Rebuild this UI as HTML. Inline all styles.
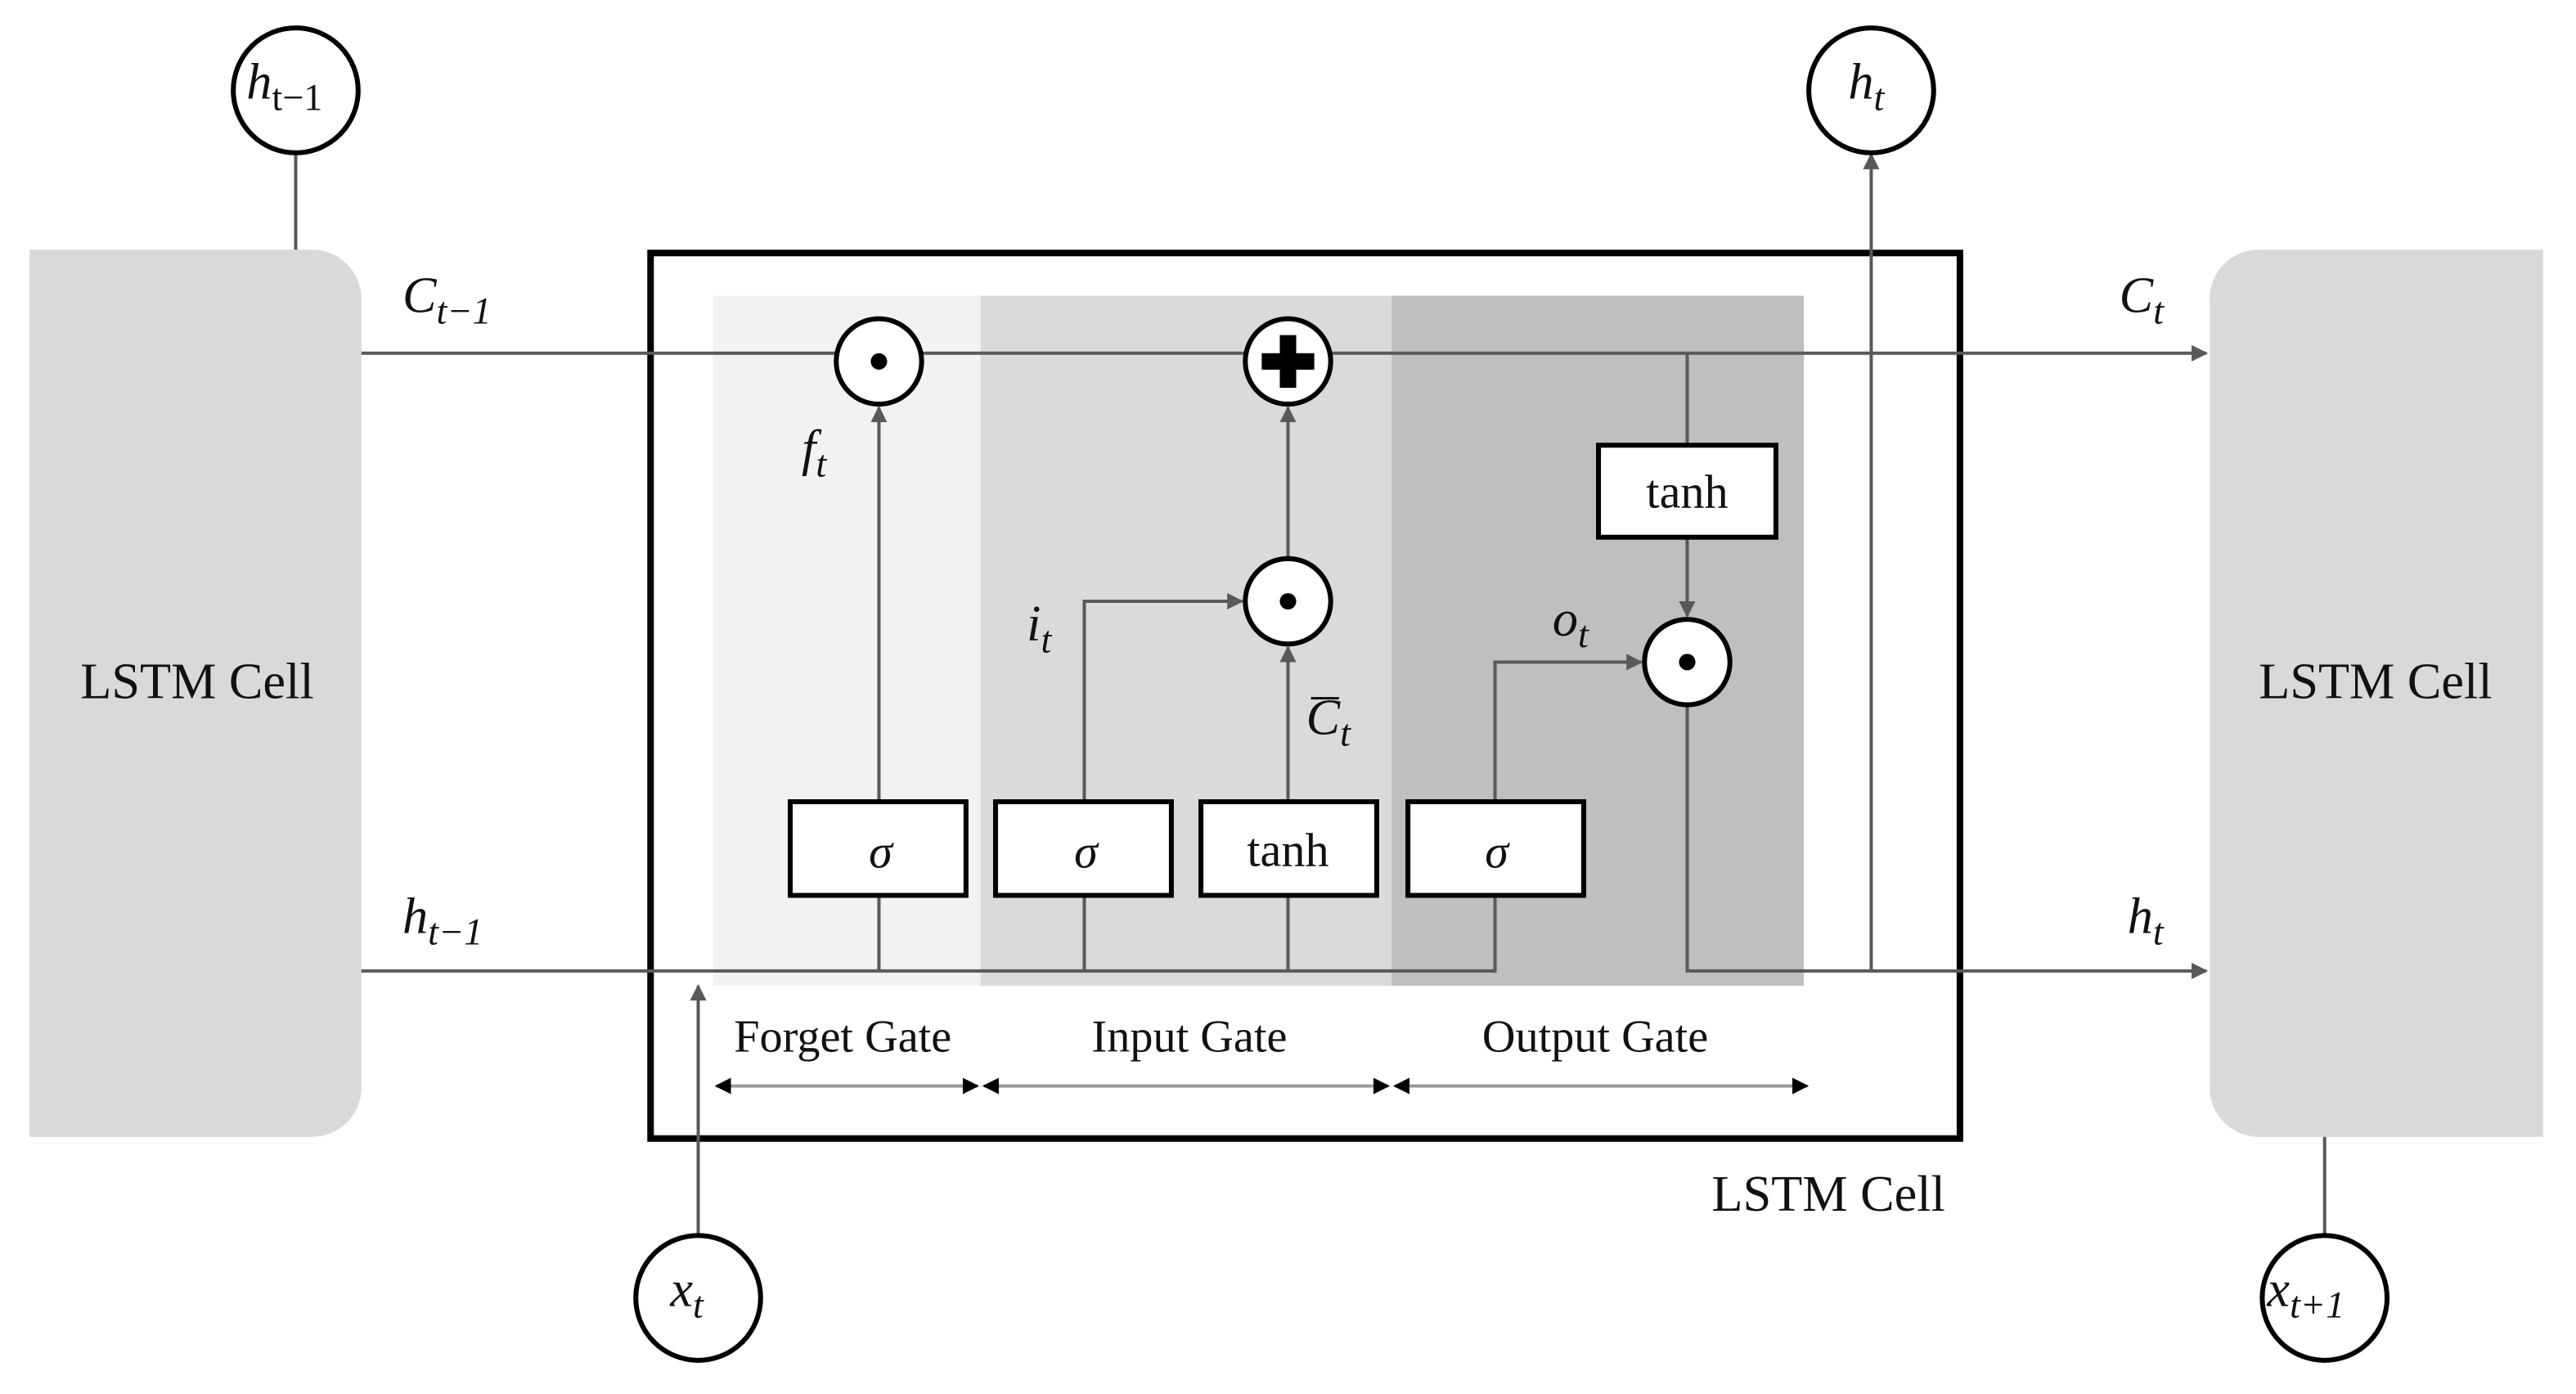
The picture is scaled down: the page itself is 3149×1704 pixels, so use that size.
<!DOCTYPE html>
<html><head><meta charset="utf-8"><style>
html,body{margin:0;padding:0;background:#fff;width:3149px;height:1704px;overflow:hidden}
svg{display:block}
text{font-family:"Liberation Serif",serif;fill:#111}
.it{font-style:italic}
</style></head><body>
<svg width="3149" height="1704" viewBox="0 0 1568 848.5" preserveAspectRatio="none">
<defs>
<marker id="a" viewBox="0 0 10 10" refX="9" refY="5" markerWidth="5" markerHeight="5" orient="auto-start-reverse"><path d="M0,0L10,5L0,10z" fill="#595959"/></marker>
<marker id="b" viewBox="0 0 10 10" refX="9" refY="5" markerWidth="5" markerHeight="5" orient="auto-start-reverse"><path d="M0,0L10,5L0,10z" fill="#000"/></marker>
</defs>
<path d="M18,152H190A30,30 0 0 1 220,182V662A30,30 0 0 1 190,692H18Z" fill="#d9d9d9"/>
<path d="M1548,152H1375A30,30 0 0 0 1345,182V662A30,30 0 0 0 1375,692H1548Z" fill="#d9d9d9"/>
<text x="120" y="425" font-size="31" text-anchor="middle">LSTM Cell</text>
<text x="1446" y="425" font-size="31" text-anchor="middle">LSTM Cell</text>
<rect x="434" y="180" width="163" height="420" fill="#f2f2f2"/>
<rect x="597" y="180" width="250" height="420" fill="#dadada"/>
<rect x="847" y="180" width="251" height="420" fill="#bfbfbf"/>
<rect x="396" y="154" width="797" height="539" fill="none" stroke="#000" stroke-width="4"/>
<g stroke="#595959" stroke-width="2" fill="none">
<line x1="180" y1="93" x2="180" y2="152"/>
<line x1="1415" y1="692" x2="1415" y2="752"/>
<line x1="220" y1="215" x2="1343" y2="215" marker-end="url(#a)"/>
<polyline points="220,591 910,591 910,545"/>
<polyline points="1027,430 1027,591 1343,591" marker-end="url(#a)"/>
<line x1="1139" y1="591" x2="1139" y2="94" marker-end="url(#a)"/>
<line x1="425" y1="752" x2="425" y2="600" marker-end="url(#a)"/>
<line x1="535" y1="591" x2="535" y2="545"/>
<line x1="660" y1="591" x2="660" y2="545"/>
<line x1="784" y1="591" x2="784" y2="545"/>
<line x1="535" y1="488" x2="535" y2="248" marker-end="url(#a)"/>
<polyline points="660,488 660,366 756,366" marker-end="url(#a)"/>
<line x1="784" y1="488" x2="784" y2="394" marker-end="url(#a)"/>
<line x1="784" y1="339" x2="784" y2="248" marker-end="url(#a)"/>
<polyline points="910,488 910,403 999,403" marker-end="url(#a)"/>
<line x1="1027" y1="215" x2="1027" y2="271"/>
<line x1="1027" y1="327" x2="1027" y2="375" marker-end="url(#a)"/>
</g>
<g stroke="#999" stroke-width="2">
<line x1="436" y1="661" x2="595" y2="661" marker-start="url(#b)" marker-end="url(#b)"/>
<line x1="599" y1="661" x2="845" y2="661" marker-start="url(#b)" marker-end="url(#b)"/>
<line x1="849" y1="661" x2="1100" y2="661" marker-start="url(#b)" marker-end="url(#b)"/>
</g>
<g fill="#fff" stroke="#000" stroke-width="3">
<rect x="481" y="488" width="107" height="57"/>
<rect x="606" y="488" width="107" height="57"/>
<rect x="731" y="488" width="107" height="57"/>
<rect x="857" y="488" width="107" height="57"/>
<rect x="973" y="271" width="108" height="56"/>
<circle cx="535" cy="220" r="26"/>
<circle cx="784" cy="220" r="26"/>
<circle cx="784" cy="366" r="26"/>
<circle cx="1027" cy="403" r="26"/>
<circle cx="180" cy="55" r="38"/>
<circle cx="1139" cy="55" r="38"/>
<circle cx="425" cy="790" r="38"/>
<circle cx="1415" cy="790" r="38"/>
</g>
<circle cx="535" cy="220" r="5" fill="#000"/>
<circle cx="784" cy="366" r="5" fill="#000"/>
<circle cx="1027" cy="403" r="5" fill="#000"/>
<path d="M779,204h10v11h11v10h-11v11h-10v-11h-11v-10h11z" fill="#000"/>
<g font-size="29" text-anchor="middle">
<text x="536" y="528" class="it">σ</text>
<text x="661" y="528" class="it">σ</text>
<text x="784" y="527">tanh</text>
<text x="911" y="528" class="it">σ</text>
<text x="1027" y="309">tanh</text>
</g>
<g font-size="28" text-anchor="middle">
<text x="513" y="640">Forget Gate</text>
<text x="724" y="640">Input Gate</text>
<text x="971" y="640">Output Gate</text>
</g>
<text x="1113" y="737" font-size="31" text-anchor="middle">LSTM Cell</text>
<g font-size="31">
<text x="150" y="60" class="it">h<tspan font-size="23" dy="7" font-style="normal">t−1</tspan></text>
<text x="1125" y="60" class="it">h<tspan font-size="23" dy="7">t</tspan></text>
<text x="408" y="795" class="it">x<tspan font-size="23" dy="7">t</tspan></text>
<text x="1380" y="795" class="it">x<tspan font-size="23" dy="7">t+1</tspan></text>
<text x="245" y="190" class="it">C<tspan font-size="23" dy="7">t−1</tspan></text>
<text x="1290" y="190" class="it">C<tspan font-size="23" dy="7">t</tspan></text>
<text x="245" y="568" class="it">h<tspan font-size="23" dy="7">t−1</tspan></text>
<text x="1295" y="568" class="it">h<tspan font-size="23" dy="7">t</tspan></text>
<text x="488" y="283" class="it">f<tspan font-size="23" dy="7">t</tspan></text>
<text x="625" y="390" class="it">i<tspan font-size="23" dy="7">t</tspan></text>
<text x="795" y="447" class="it">C<tspan font-size="23" dy="7">t</tspan></text>
<text x="945" y="387" class="it">o<tspan font-size="23" dy="7">t</tspan></text>
</g>
<line x1="798" y1="425" x2="815" y2="425" stroke="#111" stroke-width="1.5"/>
</svg>
</body></html>
